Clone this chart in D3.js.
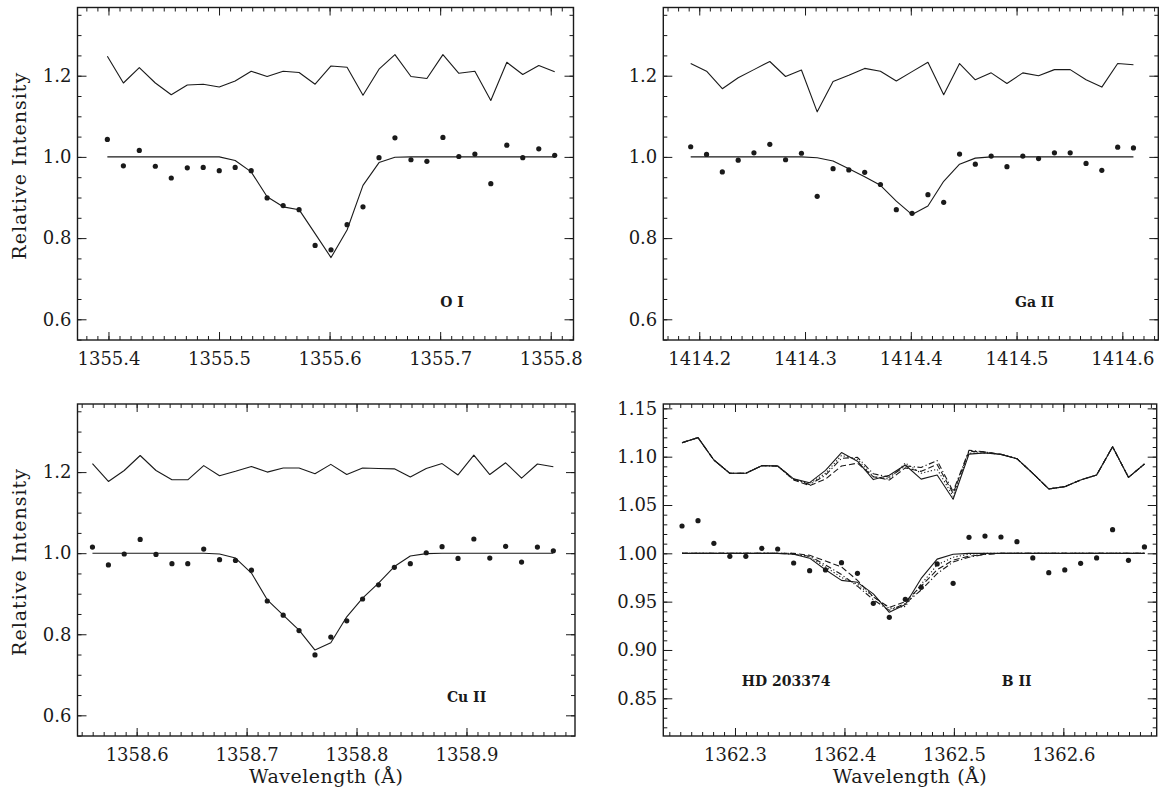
<!DOCTYPE html>
<html>
<head>
<meta charset="utf-8">
<script src="https://cdn.jsdelivr.net/npm/d3@7"></script>
<style>
  html, body { margin: 0; padding: 0; background: #fff; }
  svg { display: block; }
</style>
</head>
<body>
<svg id="chart" width="1161" height="793"></svg>
<script>
// ---------- O I 1355.6 ----------
const oiWave = [1355.3990, 1355.4135, 1355.4279, 1355.4424, 1355.4568, 1355.4713, 1355.4857, 1355.5002,
  1355.5146, 1355.5291, 1355.5435, 1355.5580, 1355.5724, 1355.5869, 1355.6013, 1355.6158, 1355.6302,
  1355.6447, 1355.6591, 1355.6736, 1355.6880, 1355.7025, 1355.7169, 1355.7314, 1355.7458, 1355.7603,
  1355.7747, 1355.7892, 1355.8036];
const oiFlux = [1.043, 0.978, 1.016, 0.977, 0.948, 0.973, 0.974, 0.966, 0.974, 0.966, 0.899, 0.880, 0.870,
  0.782, 0.771, 0.833, 0.877, 0.998, 1.047, 0.993, 0.989, 1.048, 1.001, 1.007, 0.934, 1.029, 0.998, 1.020, 1.004];
const oiFit = [1.000, 1.000, 1.000, 1.000, 1.000, 1.000, 1.000, 1.000, 0.991, 0.963, 0.902, 0.877, 0.870,
  0.811, 0.752, 0.820, 0.930, 0.986, 0.999, 1.000, 1.000, 1.000, 1.000, 1.000, 1.000, 1.000, 1.000, 1.000, 1.000];
const oiResid = [1.248, 1.182, 1.220, 1.182, 1.153, 1.177, 1.179, 1.172, 1.187, 1.211, 1.198, 1.211, 1.208,
  1.179, 1.224, 1.221, 1.152, 1.216, 1.252, 1.198, 1.193, 1.252, 1.206, 1.211, 1.139, 1.233, 1.203, 1.225, 1.210];
const oiTicks = [1355.4, 1355.5, 1355.6, 1355.7, 1355.8];

// ---------- Ga II 1414.4 ----------
const gaWave = [1414.1919, 1414.2069, 1414.2218, 1414.2368, 1414.2517, 1414.2667, 1414.2816, 1414.2966,
  1414.3115, 1414.3265, 1414.3414, 1414.3564, 1414.3713, 1414.3863, 1414.4012, 1414.4162, 1414.4311,
  1414.4461, 1414.4610, 1414.4760, 1414.4909, 1414.5059, 1414.5208, 1414.5358, 1414.5507, 1414.5657,
  1414.5806, 1414.5956, 1414.6105];
const gaFlux = [1.025, 1.006, 0.963, 0.992, 1.010, 1.031, 0.993, 1.009, 0.903, 0.971, 0.968, 0.962, 0.932,
  0.870, 0.861, 0.907, 0.888, 1.007, 0.982, 1.002, 0.976, 1.002, 0.996, 1.010, 1.010, 0.984, 0.967, 1.024, 1.022];
const gaFit = [1.000, 1.000, 1.000, 1.000, 1.000, 1.000, 1.000, 1.000, 0.998, 0.990, 0.971, 0.951, 0.930,
  0.891, 0.858, 0.879, 0.940, 0.982, 0.997, 1.000, 1.000, 1.000, 1.000, 1.000, 1.000, 1.000, 1.000, 1.000, 1.000];
const gaResid = [1.230, 1.211, 1.168, 1.195, 1.215, 1.235, 1.198, 1.214, 1.111, 1.186, 1.201, 1.218, 1.211,
  1.187, 1.210, 1.233, 1.153, 1.230, 1.190, 1.207, 1.181, 1.207, 1.200, 1.215, 1.215, 1.190, 1.172, 1.230, 1.227];
const gaTicks = [1414.2, 1414.3, 1414.4, 1414.5, 1414.6];

// ---------- Cu II 1358.8 ----------
const cuWave = [1358.5598, 1358.5743, 1358.5887, 1358.6032, 1358.6176, 1358.6321, 1358.6465, 1358.6610,
  1358.6754, 1358.6899, 1358.7044, 1358.7188, 1358.7333, 1358.7477, 1358.7622, 1358.7766, 1358.7911,
  1358.8055, 1358.8200, 1358.8344, 1358.8489, 1358.8634, 1358.8778, 1358.8923, 1358.9067, 1358.9212,
  1358.9356, 1358.9501, 1358.9645, 1358.9790];
const cuFlux = [1.015, 0.971, 0.998, 1.034, 0.997, 0.974, 0.974, 1.010, 0.984, 0.982, 0.958, 0.882, 0.847,
  0.809, 0.749, 0.793, 0.833, 0.887, 0.922, 0.965, 0.974, 1.001, 1.016, 0.987, 1.035, 0.988, 1.017, 0.978, 1.015, 1.006];
const cuFit = [1.000, 1.000, 1.000, 1.000, 1.000, 1.000, 1.000, 1.000, 0.998, 0.988, 0.951, 0.885, 0.847,
  0.810, 0.761, 0.779, 0.843, 0.889, 0.926, 0.967, 0.993, 0.999, 1.000, 1.000, 1.000, 1.000, 1.000, 1.000, 1.000, 1.000];
const cuResid = [1.221, 1.177, 1.204, 1.241, 1.204, 1.181, 1.181, 1.216, 1.191, 1.202, 1.214, 1.200, 1.210,
  1.210, 1.196, 1.219, 1.194, 1.210, 1.209, 1.208, 1.188, 1.209, 1.221, 1.193, 1.242, 1.194, 1.223, 1.185, 1.220, 1.213];
const cuTicks = [1358.6, 1358.7, 1358.8, 1358.9];

// ---------- B II 1362.46, four profile models ----------
const bWave = [1362.2516, 1362.2662, 1362.2807, 1362.2953, 1362.3099, 1362.3245, 1362.3390, 1362.3536,
  1362.3682, 1362.3827, 1362.3973, 1362.4119, 1362.4264, 1362.4410, 1362.4556, 1362.4701, 1362.4847,
  1362.4993, 1362.5138, 1362.5284, 1362.5430, 1362.5576, 1362.5721, 1362.5867, 1362.6013, 1362.6158,
  1362.6304, 1362.6450, 1362.6595, 1362.6741];
const bFlux = [1.0283, 1.0338, 1.0103, 0.9969, 0.9969, 1.0052, 1.0045, 0.9900, 0.9821, 0.9828, 0.9903,
  0.9793, 0.9483, 0.9338, 0.9524, 0.9648, 0.9890, 0.9690, 1.0166, 1.0179, 1.0169, 1.0121, 0.9952, 0.9800,
  0.9828, 0.9897, 0.9952, 1.0245, 0.9928, 1.0066];
const bFitSolid = [1.000, 1.000, 1.000, 1.000, 1.000, 1.000, 1.000, 0.999, 0.995, 0.983, 0.972, 0.970,
  0.958, 0.939, 0.947, 0.974, 0.994, 0.999, 1.000, 1.000, 1.000, 1.000, 1.000, 1.000, 1.000, 1.000, 1.000, 1.000, 1.000, 1.000];
const bFitDashed = [1.000, 1.000, 1.000, 1.000, 1.000, 1.000, 1.000, 1.000, 0.998, 0.992, 0.986, 0.972,
  0.955, 0.944, 0.950, 0.966, 0.983, 0.993, 0.997, 0.999, 1.000, 1.000, 1.000, 1.000, 1.000, 1.000, 1.000, 1.000, 1.000, 1.000];
const bFitDashDot = [1.000, 1.000, 1.000, 1.000, 1.000, 1.000, 1.000, 0.999, 0.997, 0.988, 0.978, 0.966,
  0.952, 0.941, 0.948, 0.962, 0.979, 0.991, 0.996, 0.999, 1.000, 1.000, 1.000, 1.000, 1.000, 1.000, 1.000, 1.000, 1.000, 1.000];
const bFitDotted = [1.000, 1.000, 1.000, 1.000, 1.000, 1.000, 1.000, 1.000, 0.996, 0.986, 0.975, 0.968,
  0.955, 0.943, 0.945, 0.968, 0.988, 0.996, 0.999, 1.000, 1.000, 1.000, 1.000, 1.000, 1.000, 1.000, 1.000, 1.000, 1.000, 1.000];
const bResidSolid = [1.1145, 1.1197, 1.0966, 1.0828, 1.0828, 1.0907, 1.0903, 1.0770, 1.0731, 1.0858, 1.1043,
  1.0953, 1.0763, 1.0808, 1.0914, 1.0768, 1.0810, 1.0560, 1.1026, 1.1039, 1.1024, 1.0979, 1.0828, 1.0666,
  1.0690, 1.0759, 1.0810, 1.1103, 1.0786, 1.0924];
const bResidDashed = [1.1145, 1.1197, 1.0966, 1.0828, 1.0828, 1.0907, 1.0903, 1.0760, 1.0701, 1.0768, 1.0903,
  1.0933, 1.0793, 1.0758, 1.0884, 1.0848, 1.0920, 1.0620, 1.1056, 1.1049, 1.1024, 1.0979, 1.0828, 1.0666,
  1.0690, 1.0759, 1.0810, 1.1103, 1.0786, 1.0924];
const bResidDashDot = [1.1145, 1.1197, 1.0966, 1.0828, 1.0828, 1.0907, 1.0903, 1.0770, 1.0711, 1.0808, 1.0983,
  1.0993, 1.0823, 1.0788, 1.0904, 1.0888, 1.0960, 1.0640, 1.1066, 1.1049, 1.1024, 1.0979, 1.0828, 1.0666,
  1.0690, 1.0759, 1.0810, 1.1103, 1.0786, 1.0924];
const bResidDotted = [1.1145, 1.1197, 1.0966, 1.0828, 1.0828, 1.0907, 1.0903, 1.0760, 1.0721, 1.0828, 1.1013,
  1.0973, 1.0793, 1.0768, 1.0934, 1.0828, 1.0870, 1.0590, 1.1036, 1.1039, 1.1024, 1.0979, 1.0828, 1.0666,
  1.0690, 1.0759, 1.0810, 1.1103, 1.0786, 1.0924];
const bTicks = [1362.3, 1362.4, 1362.5, 1362.6];

// y-axis tick values
const yTicksWide = [0.6, 0.8, 1.0, 1.2];
const yTicksNarrow = [0.85, 0.90, 0.95, 1.00, 1.05, 1.10, 1.15];

const INK = "#1a1a1a";
const FONT = "'DejaVu Serif', 'Liberation Serif', serif";
const svg = d3.select("#chart");

const dashStyles = { solid: null, dashed: "6,3", dashdot: "6,2.5,1.2,2.5", dotted: "1.2,2.2" };

function drawPanel(cfg) {
  const g = svg.append("g");
  const x = d3.scaleLinear().domain(cfg.xDomain).range([cfg.left, cfg.right]);
  const y = d3.scaleLinear().domain(cfg.yDomain).range([cfg.bottom, cfg.top]);

  const minorX = d3.range(Math.ceil(cfg.xDomain[0] / 0.01), Math.floor(cfg.xDomain[1] / 0.01) + 1)
    .map(i => +(i * 0.01).toFixed(2));
  const minorY = d3.range(Math.ceil(cfg.yDomain[0] / cfg.yMinor - 1e-9), Math.floor(cfg.yDomain[1] / cfg.yMinor + 1e-9) + 1)
    .map(i => +(i * cfg.yMinor).toFixed(3));

  const styleAxis = sel => {
    sel.select(".domain").remove();
    sel.selectAll("line").attr("stroke", INK).attr("stroke-width", 1);
    sel.selectAll("text").attr("fill", INK).style("font-family", FONT).style("font-size", "18px");
  };

  // bottom & top (ticks pointing inward)
  g.append("g").attr("transform", `translate(0,${cfg.bottom})`)
    .call(d3.axisBottom(x).tickValues(minorX).tickSize(-4).tickFormat("")).call(styleAxis);
  g.append("g").attr("transform", `translate(0,${cfg.bottom})`)
    .call(d3.axisBottom(x).tickValues(cfg.xTicks).tickSize(-8).tickPadding(12).tickFormat(d3.format(".1f"))).call(styleAxis);
  g.append("g").attr("transform", `translate(0,${cfg.top})`)
    .call(d3.axisTop(x).tickValues(minorX).tickSize(-4).tickFormat("")).call(styleAxis);
  g.append("g").attr("transform", `translate(0,${cfg.top})`)
    .call(d3.axisTop(x).tickValues(cfg.xTicks).tickSize(-8).tickFormat("")).call(styleAxis);

  // left & right
  g.append("g").attr("transform", `translate(${cfg.left},0)`)
    .call(d3.axisLeft(y).tickValues(minorY).tickSize(-4).tickFormat("")).call(styleAxis);
  g.append("g").attr("transform", `translate(${cfg.left},0)`)
    .call(d3.axisLeft(y).tickValues(cfg.yTicks).tickSize(-9).tickPadding(6).tickFormat(d3.format(cfg.yFmt))).call(styleAxis);
  g.append("g").attr("transform", `translate(${cfg.right},0)`)
    .call(d3.axisRight(y).tickValues(minorY).tickSize(-4).tickFormat("")).call(styleAxis);
  g.append("g").attr("transform", `translate(${cfg.right},0)`)
    .call(d3.axisRight(y).tickValues(cfg.yTicks).tickSize(-9).tickFormat("")).call(styleAxis);

  // frame
  g.append("rect")
    .attr("x", cfg.left).attr("y", cfg.top)
    .attr("width", cfg.right - cfg.left).attr("height", cfg.bottom - cfg.top)
    .attr("fill", "none").attr("stroke", INK).attr("stroke-width", 1.4);

  const line = d3.line().x(d => x(d[0])).y(d => y(d[1]));
  cfg.lines.forEach(ln => {
    g.append("path")
      .datum(cfg.wave.map((w, i) => [w, ln.values[i]]))
      .attr("d", line)
      .attr("fill", "none")
      .attr("stroke", INK)
      .attr("stroke-width", 1.1)
      .attr("stroke-linejoin", "round")
      .attr("stroke-dasharray", dashStyles[ln.style]);
  });

  g.append("g").selectAll("circle")
    .data(cfg.wave.map((w, i) => [w, cfg.flux[i]]))
    .join("circle")
    .attr("cx", d => x(d[0])).attr("cy", d => y(d[1]))
    .attr("r", 2.6).attr("fill", INK);

  cfg.labels.forEach(lb => {
    g.append("text")
      .attr("x", x(lb.at[0])).attr("y", y(lb.at[1]))
      .attr("fill", INK)
      .style("font-family", FONT).style("font-size", "14px").style("font-weight", "bold")
      .text(lb.text);
  });

  if (cfg.yTitle) {
    g.append("text")
      .attr("transform", `translate(26,${(cfg.top + cfg.bottom) / 2 - 8}) rotate(-90)`)
      .attr("text-anchor", "middle")
      .attr("fill", INK)
      .style("font-family", FONT).style("font-size", "19px").style("letter-spacing", "1px")
      .text("Relative Intensity");
  }
  if (cfg.xTitle) {
    g.append("text")
      .attr("x", (cfg.left + cfg.right) / 2).attr("y", 783)
      .attr("text-anchor", "middle")
      .attr("fill", INK)
      .style("font-family", FONT).style("font-size", "19px").style("letter-spacing", "0.5px")
      .text("Wavelength (Å)");
  }
}

const yWide = [0.549, 1.368];

drawPanel({
  left: 77.5, right: 573.5, top: 7.5, bottom: 340,
  xDomain: [1355.372, 1355.8206], yDomain: yWide,
  xTicks: oiTicks, yTicks: yTicksWide, yMinor: 0.05, yFmt: ".1f",
  wave: oiWave, flux: oiFlux,
  lines: [{ values: oiResid, style: "solid" }, { values: oiFit, style: "solid" }],
  labels: [{ text: "O I", at: [1355.7, 0.630] }],
  yTitle: true
});

drawPanel({
  left: 663.3, right: 1158.3, top: 7.5, bottom: 340,
  xDomain: [1414.166, 1414.634], yDomain: yWide,
  xTicks: gaTicks, yTicks: yTicksWide, yMinor: 0.05, yFmt: ".1f",
  wave: gaWave, flux: gaFlux,
  lines: [{ values: gaResid, style: "solid" }, { values: gaFit, style: "solid" }],
  labels: [{ text: "Ga II", at: [1414.4985, 0.630] }]
});

drawPanel({
  left: 77.5, right: 575, top: 404, bottom: 736,
  xDomain: [1358.5462, 1358.9987], yDomain: yWide,
  xTicks: cuTicks, yTicks: yTicksWide, yMinor: 0.05, yFmt: ".1f",
  wave: cuWave, flux: cuFlux,
  lines: [{ values: cuResid, style: "solid" }, { values: cuFit, style: "solid" }],
  labels: [{ text: "Cu II", at: [1358.8822, 0.632] }],
  yTitle: true, xTitle: true
});

drawPanel({
  left: 663.3, right: 1156.7, top: 404, bottom: 736,
  xDomain: [1362.2345, 1362.6853], yDomain: [0.811, 1.1545],
  xTicks: bTicks, yTicks: yTicksNarrow, yMinor: 0.01, yFmt: ".2f",
  wave: bWave, flux: bFlux,
  lines: [
    { values: bResidSolid, style: "solid" }, { values: bResidDashed, style: "dashed" },
    { values: bResidDashDot, style: "dashdot" }, { values: bResidDotted, style: "dotted" },
    { values: bFitSolid, style: "solid" }, { values: bFitDashed, style: "dashed" },
    { values: bFitDashDot, style: "dashdot" }, { values: bFitDotted, style: "dotted" }
  ],
  labels: [
    { text: "HD 203374", at: [1362.3062, 0.8627] },
    { text: "B II", at: [1362.5437, 0.8627] }
  ],
  xTitle: true
});
</script>
</body>
</html>
